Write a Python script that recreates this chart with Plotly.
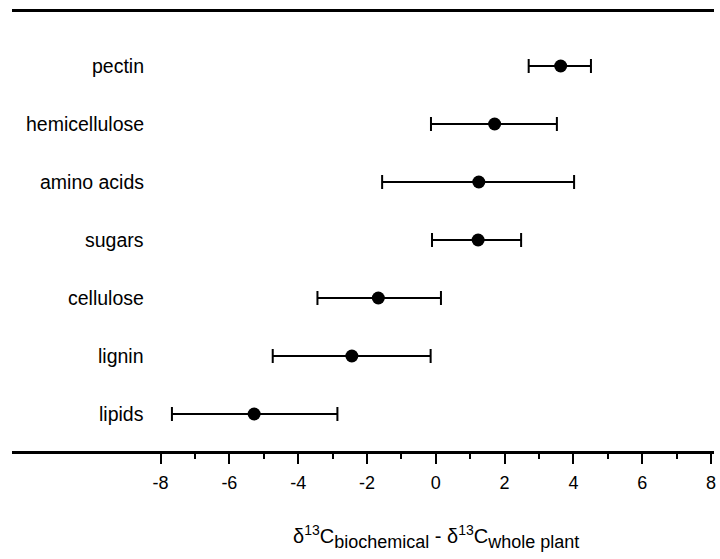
import plotly.graph_objects as go

categories = ["lipids", "lignin", "cellulose", "sugars", "amino acids", "hemicellulose", "pectin"]
means = [-5.28, -2.44, -1.67, 1.23, 1.25, 1.71, 3.63]
lows = [-7.67, -4.74, -3.44, -0.11, -1.56, -0.14, 2.70]
highs = [-2.86, -0.15, 0.15, 2.48, 4.02, 3.52, 4.51]
major_ticks = [-8, -6, -4, -2, 0, 2, 4, 6, 8]
major_labels = ["-8", "-6", "-4", "-2", "0", "2", "4", "6", "8"]
minor_ticks = [-7, -5, -3, -1, 1, 3, 5, 7]

ypos = list(range(len(categories)))
err_plus = [h - m for h, m in zip(highs, means)]
err_minus = [m - l for m, l in zip(means, lows)]

FONT = "Liberation Sans, Arial, sans-serif"

fig = go.Figure()
fig.add_trace(go.Scatter(
    x=means, y=ypos, mode="markers",
    marker=dict(size=13, color="black", symbol="circle"),
    error_x=dict(type="data", symmetric=False, array=err_plus, arrayminus=err_minus,
                 color="black", thickness=2, width=7),
    showlegend=False, hoverinfo="skip",
))

annotations = []
for i, c in enumerate(categories):
    annotations.append(dict(x=-8.41, y=i, xref="x", yref="y", text=c, showarrow=False,
                            xanchor="right", yanchor="middle",
                            font=dict(family=FONT, size=19.5, color="black")))

annotations.append(dict(
    x=0, xref="x", y=0, yref="paper", yanchor="middle", yshift=-86, xanchor="center",
    text=("δ<sup>13</sup>C<sub><span style='font-size:18px'>biochemical</span></sub> - "
          "δ<sup>13</sup>C<sub><span style='font-size:18px'>whole plant</span></sub>"),
    showarrow=False, font=dict(family=FONT, size=20, color="black")))

fig.update_layout(
    width=720, height=559,
    margin=dict(l=12, r=4, t=12, b=108),
    paper_bgcolor="white", plot_bgcolor="white",
    font=dict(family=FONT, size=18, color="black"),
    xaxis=dict(range=[-12.319, 8.087], tickmode="array", tickvals=major_ticks,
               ticktext=major_labels, ticklabelstandoff=4,
               ticks="outside", ticklen=10, tickwidth=2, tickcolor="black",
               showline=True, linewidth=2.5, linecolor="black", mirror=True,
               showgrid=False, zeroline=False,
               tickfont=dict(family=FONT, size=18, color="black"),
               minor=dict(tickmode="array", tickvals=minor_ticks, ticks="outside",
                          ticklen=5, tickwidth=2, tickcolor="black", showgrid=False)),
    yaxis=dict(range=[-0.638, 6.931], showline=False, showticklabels=False, ticks="",
               showgrid=False, zeroline=False),
    annotations=annotations,
)

fig.write_html("out.html")
